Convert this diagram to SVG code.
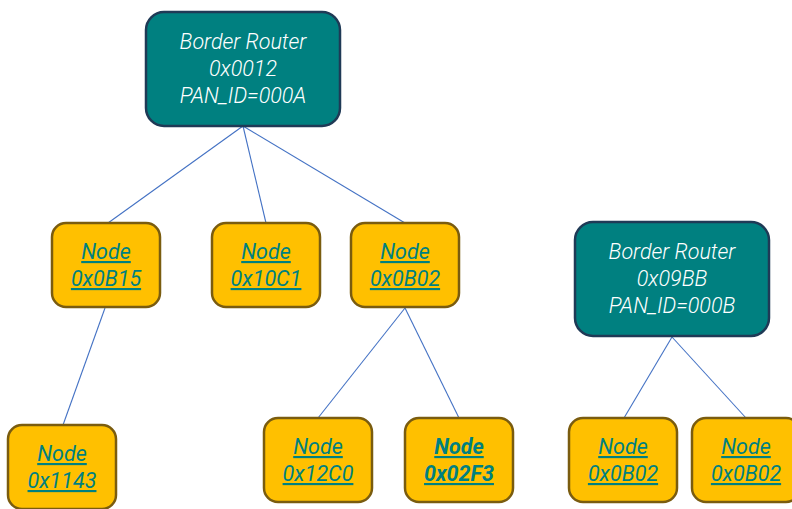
<svg xmlns="http://www.w3.org/2000/svg" width="792" height="509" viewBox="0 0 792 509">
<style>
.router rect{fill:#008080;stroke:#1f3a56;stroke-width:2.5}
.node rect{fill:#ffc000;stroke:#7a5c0f;stroke-width:2.5}
text{font-family:Roboto,"Liberation Sans",sans-serif;font-style:italic;font-size:21.5px;text-anchor:middle}
.router text{fill:#ffffff;font-weight:300}
.node text{fill:#008080;text-decoration:underline;font-weight:400}
.node text.b{font-weight:700}
.conn line{stroke:#4472c4;stroke-width:1.1}
</style>
<rect width="792" height="509" fill="#ffffff"/>
<g class="conn">
<line x1="243" y1="126" x2="108" y2="223"/>
<line x1="243" y1="126" x2="266" y2="223"/>
<line x1="243" y1="126" x2="405" y2="223"/>
<line x1="105" y1="308" x2="63" y2="425"/>
<line x1="405" y1="308" x2="318" y2="418"/>
<line x1="405" y1="308" x2="459" y2="418"/>
<line x1="672" y1="337" x2="624" y2="418"/>
<line x1="672" y1="337" x2="746" y2="418"/>
</g>
<g id="router1" class="router">
<rect x="146" y="12" width="194" height="114" rx="18"/>
<text x="243" y="49">Border Router</text>
<text x="243" y="76">0x0012</text>
<text x="243" y="103">PAN_ID=000A</text>
</g>
<g id="node-0B15" class="node">
<rect x="52" y="223" width="108" height="84" rx="14"/>
<text x="106" y="259">Node</text>
<text x="106" y="286">0x0B15</text>
</g>
<g id="node-10C1" class="node">
<rect x="212" y="223" width="108" height="84" rx="14"/>
<text x="266" y="259">Node</text>
<text x="266" y="286">0x10C1</text>
</g>
<g id="node-0B02" class="node">
<rect x="351" y="223" width="108" height="84" rx="14"/>
<text x="405" y="259">Node</text>
<text x="405" y="286">0x0B02</text>
</g>
<g id="router2" class="router">
<rect x="575" y="222" width="194" height="114" rx="18"/>
<text x="672" y="259">Border Router</text>
<text x="672" y="286">0x09BB</text>
<text x="672" y="313">PAN_ID=000B</text>
</g>
<g id="node-1143" class="node">
<rect x="8" y="425" width="108" height="84" rx="14"/>
<text x="62" y="461">Node</text>
<text x="62" y="488">0x1143</text>
</g>
<g id="node-12C0" class="node">
<rect x="264" y="418" width="108" height="84" rx="14"/>
<text x="318" y="454">Node</text>
<text x="318" y="481">0x12C0</text>
</g>
<g id="node-02F3" class="node">
<rect x="405" y="418" width="108" height="84" rx="14"/>
<text class="b" x="459" y="454">Node</text>
<text class="b" x="459" y="481">0x02F3</text>
</g>
<g id="node-0B02-a" class="node">
<rect x="569" y="418" width="108" height="84" rx="14"/>
<text x="623" y="454">Node</text>
<text x="623" y="481">0x0B02</text>
</g>
<g id="node-0B02-b" class="node">
<rect x="692" y="418" width="108" height="84" rx="14"/>
<text x="746" y="454">Node</text>
<text x="746" y="481">0x0B02</text>
</g>
</svg>
